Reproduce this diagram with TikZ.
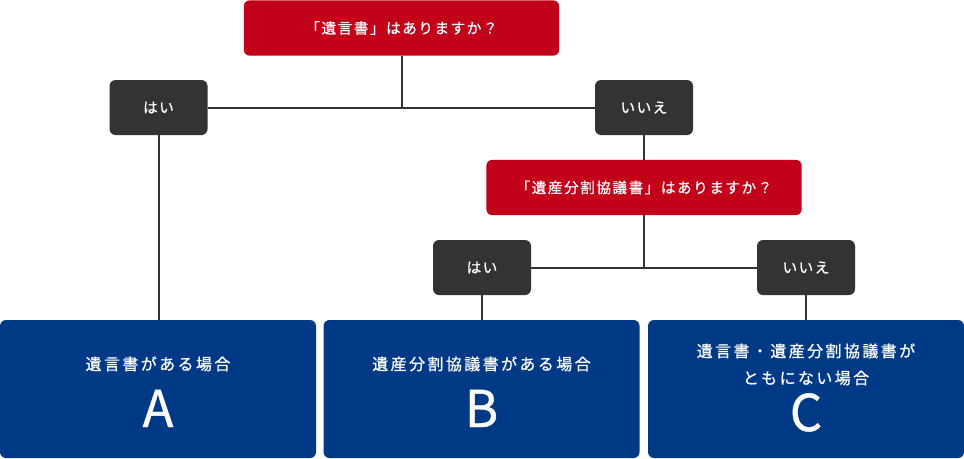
\documentclass[tikz,border=0pt]{standalone}
\usepackage{fontspec}
\setmainfont[FakeBold=0.8]{Noto Sans CJK JP}
\newfontfamily\jpcase[LetterSpace=15,FakeBold=0.8]{Noto Sans CJK JP}
\newfontfamily\jpask[LetterSpace=10,FakeBold=0.8]{Noto Sans CJK JP}
\definecolor{askred}{HTML}{C3001A}
\definecolor{replydark}{HTML}{333333}
\definecolor{casenavy}{HTML}{003A86}

\begin{document}
\begin{tikzpicture}[x=0.75pt,y=-0.75pt,
    question/.style={fill=askred,rounded corners=4.5pt,inner sep=0pt,outer sep=0pt,
      minimum width=236.5pt,minimum height=41.5pt,text=white,font=\jpask\fontsize{11}{13}\selectfont},
    reply/.style={fill=replydark,rounded corners=4.5pt,inner sep=0pt,outer sep=0pt,
      minimum width=73.5pt,minimum height=41.25pt,text=white,font=\jpask\fontsize{11}{13}\selectfont},
    casebox/.style={fill=casenavy,rounded corners=4.5pt,inner sep=0pt,outer sep=0pt,
      minimum width=237pt,minimum height=103.5pt},
    caselabel/.style={text=white,anchor=base,inner sep=0pt,font=\jpcase\fontsize{12}{14}\selectfont},
    caseletter/.style={text=white,anchor=base,inner sep=0pt,font=\fontsize{38}{40}\selectfont},
    link/.style={replydark,line width=1.5pt}]
  \useasboundingbox (0,0) rectangle (964,458);
  % questions and answers
  \node[question] (ask1) at (401.5,28) {「遺言書」はありますか？};
  \node[reply] (yes1) at (158.5,107.5) {はい};
  \node[reply] (no1) at (644,107.5) {いいえ};
  \node[question] (ask2) at (644,187.5) {「遺産分割協議書」はありますか？};
  \node[reply] (yes2) at (482,267.5) {はい};
  \node[reply] (no2) at (806,267.5) {いいえ};
  % cases
  \node[casebox] (caseA) at (158,389) {};
  \node[casebox] (caseB) at (481.5,389) {};
  \node[casebox] (caseC) at (806,389) {};
  \node[caselabel] (labA) at (158,370) {遺言書がある場合};
  \node[caseletter] (letA) at (158,427) {A};
  \node[caselabel] (labB) at (481.5,370) {遺産分割協議書がある場合};
  \node[caseletter] (letB) at (481.5,427) {B};
  \node[caselabel] (labC1) at (806,357) {遺言書・遺産分割協議書が};
  \node[caselabel] (labC2) at (806,384) {ともにない場合};
  \node[caseletter] (letC) at (806,431) {C};
  % connectors
  \draw[link] (ask1.south) -- (ask1.south |- yes1.east);
  \draw[link] (yes1.east) -- (no1.west);
  \draw[link] (yes1.south) -- (yes1.south |- caseA.north);
  \draw[link] (no1.south) -- (ask2.north);
  \draw[link] (ask2.south) -- (ask2.south |- yes2.east);
  \draw[link] (yes2.east) -- (no2.west);
  \draw[link] (yes2.south) -- (yes2.south |- caseB.north);
  \draw[link] (no2.south) -- (caseC.north);
\end{tikzpicture}
\end{document}
